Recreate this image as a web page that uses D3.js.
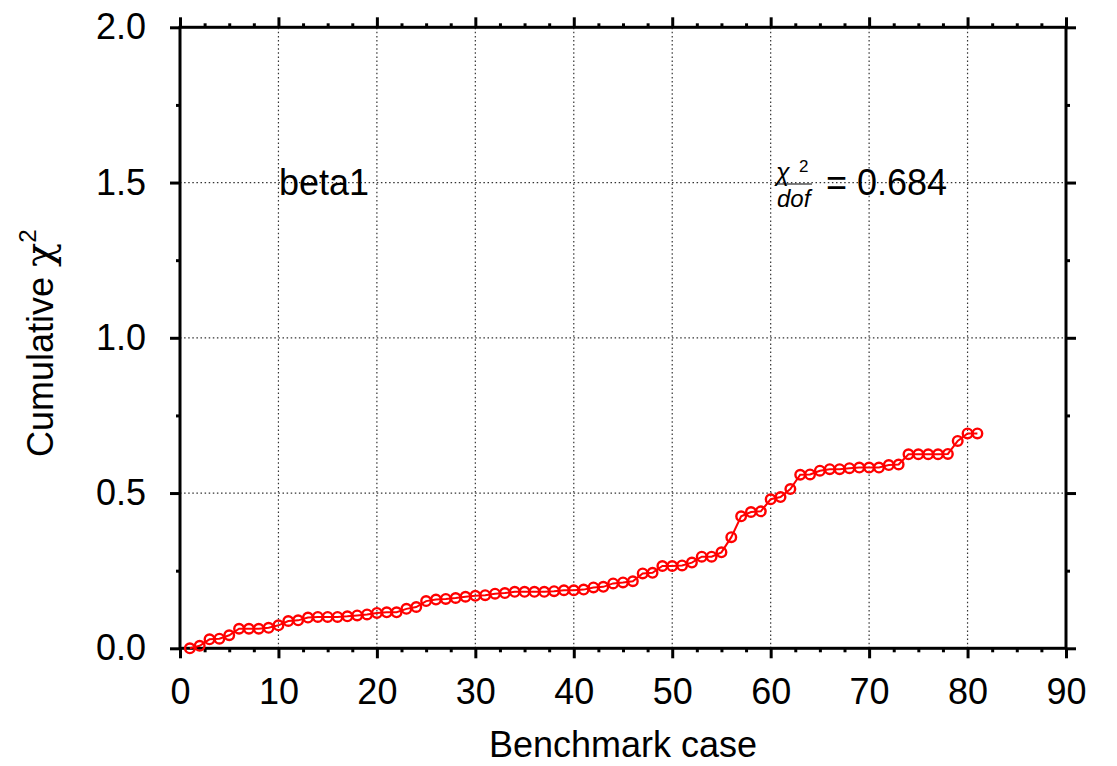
<!DOCTYPE html>
<html>
<head>
<meta charset="utf-8">
<script src="https://cdn.jsdelivr.net/npm/d3@7"></script>
<style>
  body { margin: 0; background: #fff; }
  text { font-family: "Liberation Sans", Arial, sans-serif; fill: #000; }
</style>
</head>
<body>
<div id="chart"></div>
<script>
// cumulative chi2 per benchmark case (case 1..81)
const cases = d3.range(1, 82);
const chi2 = [
  0.000, 0.008, 0.029, 0.031, 0.042, 0.063, 0.063, 0.063, 0.066, 0.074,
  0.088, 0.090, 0.099, 0.101, 0.101, 0.101, 0.103, 0.106, 0.109, 0.114,
  0.116, 0.116, 0.127, 0.133, 0.152, 0.157, 0.159, 0.162, 0.166, 0.169,
  0.171, 0.176, 0.178, 0.182, 0.182, 0.182, 0.182, 0.184, 0.187, 0.187,
  0.189, 0.196, 0.198, 0.209, 0.212, 0.216, 0.241, 0.243, 0.265, 0.265,
  0.267, 0.276, 0.295, 0.295, 0.309, 0.358, 0.425, 0.439, 0.441, 0.480,
  0.487, 0.513, 0.559, 0.560, 0.572, 0.577, 0.577, 0.580, 0.582, 0.582,
  0.582, 0.590, 0.592, 0.625, 0.625, 0.625, 0.625, 0.626, 0.668, 0.692,
  0.692
];
const xTicks = d3.range(0, 91, 10);
const yTicks = [0, 0.5, 1.0, 1.5, 2.0];
const xMinor = d3.range(0, 90.1, 2.5).filter(v => v % 10 !== 0);
const yMinor = [0.25, 0.75, 1.25, 1.75];
const setName = 'beta1';
const chi2dof = '0.684';

const W = 1117, H = 766, M = { t: 27.3, r: 51, b: 117.7, l: 180 };
const svg = d3.select('#chart').append('svg').attr('width', W).attr('height', H);

const x = d3.scaleLinear().domain([0, 90]).range([M.l, W - M.r]);
const y = d3.scaleLinear().domain([0, 2]).range([H - M.b, M.t]);

// dotted grid
const grid = svg.append('g').attr('stroke', '#333').attr('stroke-width', 1.2).attr('stroke-dasharray', '1.5,2.6');
grid.selectAll('.gx').data(xTicks.slice(1, -1)).enter().append('line')
  .attr('x1', d => x(d)).attr('x2', d => x(d)).attr('y1', y(0)).attr('y2', y(2));
grid.selectAll('.gy').data(yTicks.slice(1, -1)).enter().append('line')
  .attr('x1', x(0)).attr('x2', x(90)).attr('y1', d => y(d)).attr('y2', d => y(d));

function styleAxis(g) {
  g.select('.domain').remove();
  g.selectAll('line').attr('stroke', '#000').attr('stroke-width', 3);
  g.selectAll('text').attr('font-size', 36).attr('fill', '#000')
    .attr('font-family', '"Liberation Sans", Arial, sans-serif');
}

const B = H - M.b, R = W - M.r;
svg.append('g').attr('transform', `translate(0,${B})`)
  .call(d3.axisBottom(x).tickValues(xTicks).tickSize(10).tickPadding(20)).call(styleAxis);
svg.append('g').attr('transform', `translate(0,${B})`)
  .call(d3.axisBottom(x).tickValues(xMinor).tickSize(4).tickFormat('')).call(styleAxis);
svg.append('g').attr('transform', `translate(0,${M.t})`)
  .call(d3.axisTop(x).tickValues(xTicks).tickSize(10).tickFormat('')).call(styleAxis);
svg.append('g').attr('transform', `translate(0,${M.t})`)
  .call(d3.axisTop(x).tickValues(xMinor).tickSize(4).tickFormat('')).call(styleAxis);
svg.append('g').attr('transform', `translate(${M.l},0)`)
  .call(d3.axisLeft(y).tickValues(yTicks).tickSize(10).tickPadding(24).tickFormat(d3.format('.1f'))).call(styleAxis);
svg.append('g').attr('transform', `translate(${M.l},0)`)
  .call(d3.axisLeft(y).tickValues(yMinor).tickSize(4).tickFormat('')).call(styleAxis);
svg.append('g').attr('transform', `translate(${R},0)`)
  .call(d3.axisRight(y).tickValues(yTicks).tickSize(10).tickFormat('')).call(styleAxis);
svg.append('g').attr('transform', `translate(${R},0)`)
  .call(d3.axisRight(y).tickValues(yMinor).tickSize(4).tickFormat('')).call(styleAxis);

// frame
svg.append('rect').attr('x', M.l).attr('y', M.t).attr('width', R - M.l).attr('height', B - M.t)
  .attr('fill', 'none').attr('stroke', '#000').attr('stroke-width', 3);

// series
const pts = cases.map((c, i) => [c, chi2[i]]);
svg.append('path').datum(pts)
  .attr('fill', 'none').attr('stroke', '#f00').attr('stroke-width', 2)
  .attr('d', d3.line().x(d => x(d[0])).y(d => y(d[1])));
svg.append('g').selectAll('circle').data(pts).enter().append('circle')
  .attr('cx', d => x(d[0])).attr('cy', d => y(d[1])).attr('r', 4.8)
  .attr('fill', 'none').attr('stroke', '#f00').attr('stroke-width', 2.4);

// axis titles
svg.append('text').attr('x', (M.l + R) / 2).attr('y', 757).attr('text-anchor', 'middle')
  .attr('font-size', 36).text('Benchmark case');

const yt = svg.append('text').attr('transform', 'translate(53,457) rotate(-90)').attr('font-size', 36);
yt.append('tspan').text('Cumulative ');
yt.append('tspan').attr('font-family', '"DejaVu Serif", serif').attr('font-size', 40).text('χ');
yt.append('tspan').attr('font-size', 24).attr('dy', -17).text('2');

// annotations
svg.append('text').attr('x', 279).attr('y', 195).attr('font-size', 36).text(setName);

const fr = svg.append('g');
fr.append('text').attr('x', 776).attr('y', 181).attr('font-size', 25)
  .attr('font-family', '"DejaVu Serif", serif').attr('font-style', 'italic').text('χ');
fr.append('text').attr('x', 799).attr('y', 172).attr('font-size', 17).text('2');
fr.append('line').attr('x1', 775).attr('x2', 812).attr('y1', 184).attr('y2', 184)
  .attr('stroke', '#000').attr('stroke-width', 1.2);
fr.append('text').attr('x', 777).attr('y', 207).attr('font-size', 24).attr('font-style', 'italic').text('dof');
fr.append('text').attr('x', 826).attr('y', 195).attr('font-size', 36).text('= ' + chi2dof);
</script>
</body>
</html>
